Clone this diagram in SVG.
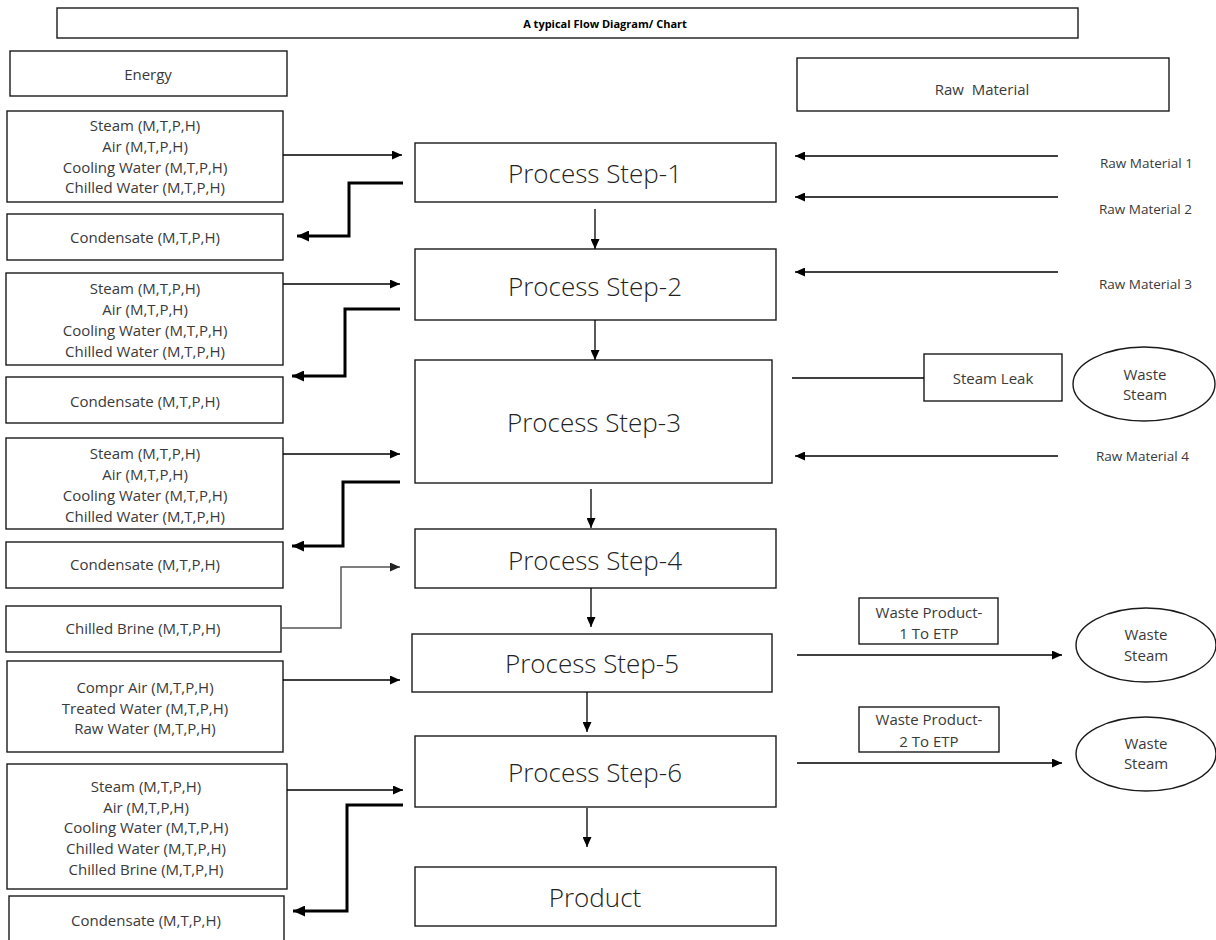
<svg xmlns="http://www.w3.org/2000/svg" width="1216" height="940" viewBox="0 0 1216 940">
<defs>
<marker id="ah" markerUnits="userSpaceOnUse" markerWidth="11" markerHeight="9" refX="10" refY="4.5" orient="auto">
<path d="M0,0 L10,4.5 L0,9 z" fill="#000"/>
</marker>
<marker id="ahg" markerUnits="userSpaceOnUse" markerWidth="11" markerHeight="9" refX="10" refY="4.5" orient="auto">
<path d="M0,0 L10,4.5 L0,9 z" fill="#222"/>
</marker>
<marker id="ahb" markerUnits="userSpaceOnUse" markerWidth="13" markerHeight="11" refX="12" refY="5.5" orient="auto">
<path d="M0,0 L12,5.5 L0,11 z" fill="#000"/>
</marker>
</defs>
<style>
.box, ellipse { fill: #fff; stroke: #1a1a1a; stroke-width: 1.4; }
text { font-family: "Open Sans", "Noto Sans", sans-serif; fill: #3a3a3a; text-anchor: middle; dominant-baseline: central; }
.lbl { font-size: 15px; }
.sm { font-size: 13.5px; text-anchor: start; }
.proc { font-size: 26px; font-weight: 300; fill: #222; }
.title { font-size: 11px; font-weight: bold; fill: #000; }
.thin { fill: none; stroke: #000; stroke-width: 1.3; marker-end: url(#ah); }
.thick { fill: none; stroke: #000; stroke-width: 3; marker-end: url(#ahb); }
.gray { fill: none; stroke: #555; stroke-width: 1.5; marker-end: url(#ahg); }
.plain { fill: none; stroke: #000; stroke-width: 1.3; }
</style>
<rect width="1216" height="940" fill="#fff"/>

<g id="title"><rect class="box" x="57" y="8" width="1021" height="30"/><text class="title" x="605" y="23">A typical Flow Diagram/ Chart</text></g>
<g id="energy"><rect class="box" x="10" y="51" width="277" height="45"/><text class="lbl" x="148" y="74">Energy</text></g>
<g id="raw-material"><rect class="box" x="797" y="58" width="372" height="53"/><text class="lbl" x="982" y="89" xml:space="preserve">Raw  Material</text></g>

<g id="utilities-1"><rect class="box" x="7" y="111" width="276" height="91"/>
<text class="lbl" x="145" y="125">Steam (M,T,P,H)</text><text class="lbl" x="145" y="146">Air (M,T,P,H)</text><text class="lbl" x="145" y="167">Cooling Water (M,T,P,H)</text><text class="lbl" x="145" y="187">Chilled Water (M,T,P,H)</text></g>
<g id="condensate-1"><rect class="box" x="7" y="214" width="276" height="46"/><text class="lbl" x="145" y="237">Condensate (M,T,P,H)</text></g>
<g id="utilities-2"><rect class="box" x="6" y="273" width="277" height="92"/>
<text class="lbl" x="145" y="288">Steam (M,T,P,H)</text><text class="lbl" x="145" y="309">Air (M,T,P,H)</text><text class="lbl" x="145" y="330">Cooling Water (M,T,P,H)</text><text class="lbl" x="145" y="351">Chilled Water (M,T,P,H)</text></g>
<g id="condensate-2"><rect class="box" x="6" y="377" width="277" height="46"/><text class="lbl" x="145" y="401">Condensate (M,T,P,H)</text></g>
<g id="utilities-3"><rect class="box" x="6" y="438" width="277" height="91"/>
<text class="lbl" x="145" y="453">Steam (M,T,P,H)</text><text class="lbl" x="145" y="474">Air (M,T,P,H)</text><text class="lbl" x="145" y="495">Cooling Water (M,T,P,H)</text><text class="lbl" x="145" y="516">Chilled Water (M,T,P,H)</text></g>
<g id="condensate-3"><rect class="box" x="6" y="542" width="277" height="46"/><text class="lbl" x="145" y="564">Condensate (M,T,P,H)</text></g>
<g id="chilled-brine"><rect class="box" x="6" y="606" width="275" height="46"/><text class="lbl" x="143" y="628">Chilled Brine (M,T,P,H)</text></g>
<g id="utilities-5"><rect class="box" x="7" y="661" width="276" height="91"/>
<text class="lbl" x="145" y="687">Compr Air (M,T,P,H)</text><text class="lbl" x="145" y="708">Treated Water (M,T,P,H)</text><text class="lbl" x="145" y="728">Raw Water (M,T,P,H)</text></g>
<g id="utilities-6"><rect class="box" x="7" y="764" width="280" height="125"/>
<text class="lbl" x="146" y="786">Steam (M,T,P,H)</text><text class="lbl" x="146" y="807">Air (M,T,P,H)</text><text class="lbl" x="146" y="827">Cooling Water (M,T,P,H)</text><text class="lbl" x="146" y="848">Chilled Water (M,T,P,H)</text><text class="lbl" x="146" y="869">Chilled Brine (M,T,P,H)</text></g>
<g id="condensate-6"><rect class="box" x="9" y="896" width="275" height="60"/><text class="lbl" x="146" y="920">Condensate (M,T,P,H)</text></g>

<g id="step-1"><rect class="box" x="415" y="143" width="361" height="59"/><text class="proc" x="595" y="173">Process Step-1</text></g>
<g id="step-2"><rect class="box" x="415" y="249" width="361" height="71"/><text class="proc" x="595" y="286">Process Step-2</text></g>
<g id="step-3"><rect class="box" x="415" y="360" width="357" height="123"/><text class="proc" x="594" y="422">Process Step-3</text></g>
<g id="step-4"><rect class="box" x="415" y="529" width="361" height="59"/><text class="proc" x="595" y="560">Process Step-4</text></g>
<g id="step-5"><rect class="box" x="412" y="634" width="360" height="58"/><text class="proc" x="592" y="663">Process Step-5</text></g>
<g id="step-6"><rect class="box" x="415" y="736" width="361" height="71"/><text class="proc" x="595" y="772">Process Step-6</text></g>
<g id="product"><rect class="box" x="415" y="867" width="361" height="59"/><text class="proc" x="595" y="897">Product</text></g>

<g id="rm-1"><text class="sm" x="1100" y="163">Raw Material 1</text></g>
<g id="rm-2"><text class="sm" x="1099" y="209">Raw Material 2</text></g>
<g id="rm-3"><text class="sm" x="1099" y="284">Raw Material 3</text></g>
<g id="rm-4"><text class="sm" x="1096" y="456">Raw Material 4</text></g>

<g id="steam-leak"><rect class="box" x="924" y="354" width="138" height="47"/><text class="lbl" x="993" y="378">Steam Leak</text></g>
<g id="waste-steam-1"><ellipse cx="1144" cy="384" rx="71" ry="37"/><text class="lbl" x="1145" y="374">Waste</text><text class="lbl" x="1145" y="394">Steam</text></g>
<g id="waste-product-1"><rect class="box" x="859" y="598" width="139" height="46"/><text class="lbl" x="929" y="612">Waste Product-</text><text class="lbl" x="929" y="633">1 To ETP</text></g>
<g id="waste-steam-2"><ellipse cx="1146" cy="645" rx="70" ry="37"/><text class="lbl" x="1146" y="634">Waste</text><text class="lbl" x="1146" y="655">Steam</text></g>
<g id="waste-product-2"><rect class="box" x="859" y="707" width="140" height="45"/><text class="lbl" x="929" y="719">Waste Product-</text><text class="lbl" x="929" y="741">2 To ETP</text></g>
<g id="waste-steam-3"><ellipse cx="1146" cy="754" rx="70" ry="37"/><text class="lbl" x="1146" y="743">Waste</text><text class="lbl" x="1146" y="763">Steam</text></g>

<g id="connectors">
<path class="thin" d="M283,155 H402"/>
<path class="thick" d="M403,183 H349 V236 H297"/>
<path class="thin" d="M283,284 H400"/>
<path class="thick" d="M400,309 H345 V376 H292"/>
<path class="thin" d="M283,454 H400"/>
<path class="thick" d="M400,482 H343 V546 H292"/>
<path class="gray" d="M281,628 H341 V567 H400"/>
<path class="thin" d="M283,680 H400"/>
<path class="thin" d="M287,790 H403"/>
<path class="thick" d="M403,805 H347 V911 H293"/>
<path class="thin" d="M595,209 V249"/>
<path class="thin" d="M595,320 V360"/>
<path class="thin" d="M591,489 V528"/>
<path class="thin" d="M591,588 V627"/>
<path class="thin" d="M587,692 V732"/>
<path class="thin" d="M587,808 V847"/>
<path class="thin" d="M1058,156 H795"/>
<path class="thin" d="M1058,197 H795"/>
<path class="thin" d="M1058,272 H795"/>
<path class="thin" d="M1058,456 H795"/>
<path class="plain" d="M792,378 H924"/>
<path class="thin" d="M797,655 H1062"/>
<path class="thin" d="M797,763 H1062"/>
</g>
</svg>
